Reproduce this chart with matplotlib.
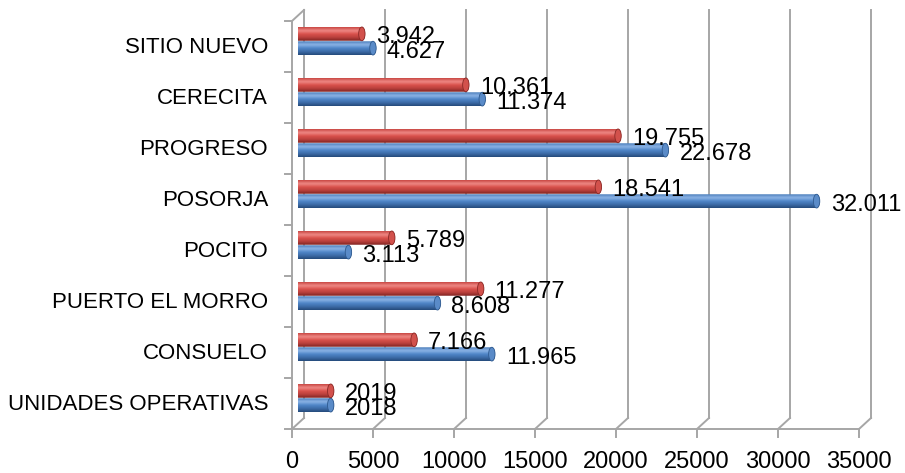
import numpy as np
import matplotlib
matplotlib.use("Agg")
import matplotlib.pyplot as plt
from matplotlib.colors import LinearSegmentedColormap
from matplotlib.patches import Ellipse, PathPatch
from matplotlib.path import Path
from matplotlib.transforms import offset_copy

plt.rcParams["font.family"] = ["Liberation Sans", "DejaVu Sans"]

# data, bottom to top as drawn
categories = ["UNIDADES OPERATIVAS", "CONSUELO", "PUERTO EL MORRO", "POCITO",
              "POSORJA", "PROGRESO", "CERECITA", "SITIO NUEVO"]
v2019 = [2019, 7166, 11277, 5789, 18541, 19755, 10361, 3942]
v2018 = [2018, 11965, 8608, 3113, 32011, 22678, 11374, 4627]
lab2019 = ["2019", "7.166", "11.277", "5.789", "18.541", "19.755", "10.361", "3.942"]
lab2018 = ["2018", "11.965", "8.608", "3.113", "32.011", "22.678", "11.374", "4.627"]
xticks = [0, 5000, 10000, 15000, 20000, 25000, 30000, 35000]

W, H = 905, 473
fig = plt.figure(figsize=(W / 100, H / 100), dpi=100)
ax = fig.add_axes([298 / W, 49.5 / H, 567 / W, 408 / H])
ax.set_axis_off()
n = len(categories)
y0, y1 = -0.5, n - 0.5
ax.set_xlim(0, 35000)
ax.set_ylim(y0, y1)
ax.set_autoscale_on(False)

front = offset_copy(ax.transData, fig=fig, x=-6, y=-5.5, units="dots")
back = offset_copy(ax.transData, fig=fig, x=6, y=5.5, units="dots")
tickt = offset_copy(ax.transData, fig=fig, x=-6, y=-13.5, units="dots")
ltick = offset_copy(ax.transData, fig=fig, x=-13, y=-5.5, units="dots")
xlab = offset_copy(ax.transData, fig=fig, x=-6, y=-38.5, units="dots")
ylab = offset_copy(ax.transData, fig=fig, x=-30, y=-6.5, units="dots")
vlab = offset_copy(ax.transData, fig=fig, x=14, y=-3.5, units="dots")

gray = "#A6A6A6"
lw = 1.4


def seg(pts, trans):
    # join points given in different offset frames, in pixels
    px = [t.transform(p) for p, t in zip(pts, trans)]
    fig.lines.append(plt.Line2D([q[0] for q in px], [q[1] for q in px],
                                color=gray, lw=lw, transform=None))


# 3d frame
ax.plot([0, 0], [y0, y1], color=gray, lw=lw, transform=front, clip_on=False)
ax.plot([0, xticks[-1]], [y0, y0], color=gray, lw=lw, transform=front, clip_on=False)
seg([(0, y1), (0, y1)], [front, back])
for xv in xticks:
    ax.plot([xv, xv], [y0, y1], color=gray, lw=lw, transform=back, clip_on=False)
    seg([(xv, y0), (xv, y0), (xv, y0)], [back, front, tickt])
    ax.text(xv, y0, str(xv), transform=xlab, ha="center", va="center", fontsize=17)
for k in range(n + 1):
    seg([(0, k - 0.5), (0, k - 0.5)], [front, ltick])
for k, c in enumerate(categories):
    ax.text(0, k, c, transform=ylab, ha="right", va="center", fontsize=16)

red_cmap = LinearSegmentedColormap.from_list(
    "r", ["#7E2220", "#B8403C", "#D9504B", "#EF8A86", "#C84541"])
blue_cmap = LinearSegmentedColormap.from_list(
    "b", ["#24497A", "#3D6CA8", "#4F86C8", "#8DB4E6", "#4A7CBA"])

h = 0.27
rx = 3.2 / 567 * 35000
grad = np.linspace(0, 1, 64).reshape(-1, 1)


def cyl(x, yc, cmap, cap_color, edge):
    t = np.linspace(-np.pi / 2, np.pi / 2, 40)
    verts = [(0, yc - h / 2)] + [(x + rx * np.cos(a), yc + h / 2 * np.sin(a)) for a in t] \
        + [(0, yc + h / 2), (0, yc - h / 2)]
    codes = [Path.MOVETO] + [Path.LINETO] * (len(verts) - 2) + [Path.CLOSEPOLY]
    patch = PathPatch(Path(verts, codes), facecolor="none", edgecolor="none")
    ax.add_patch(patch)
    im = ax.imshow(grad, cmap=cmap, extent=[0, x + rx, yc - h / 2, yc + h / 2],
                   origin="lower", aspect="auto", interpolation="bicubic", zorder=2)
    im.set_clip_path(patch)
    ax.add_patch(Ellipse((x, yc), 2 * rx, h, facecolor=cap_color, edgecolor=edge,
                         lw=0.6, zorder=3))


for k in range(n):
    cyl(v2018[k], k - 0.14, blue_cmap, "#5A8BC8", "#2F5A8F")
    cyl(v2019[k], k + 0.14, red_cmap, "#D2514C", "#8A2926")
    ax.text(v2019[k], k + 0.14, lab2019[k], transform=vlab, ha="left", va="center",
            fontsize=17, zorder=5)
    ax.text(v2018[k], k - 0.14, lab2018[k], transform=vlab, ha="left", va="center",
            fontsize=17, zorder=5)

ax.set_xlim(0, 35000)
ax.set_ylim(y0, y1)

fig.savefig("out.png", dpi=100)
